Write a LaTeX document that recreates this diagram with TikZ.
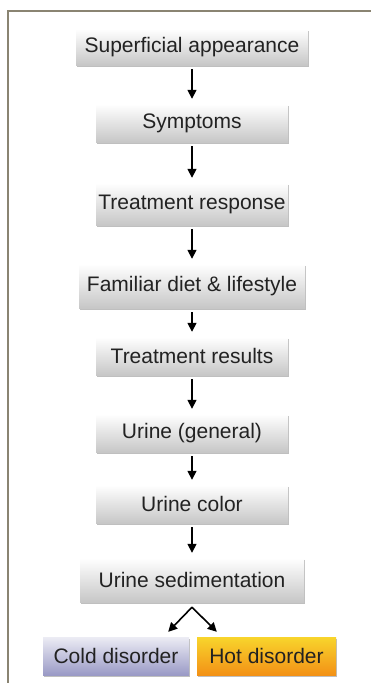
\documentclass[tikz,border=0pt]{standalone}
\usepackage{fontspec}
\setmainfont{Liberation Sans}
\usetikzlibrary{arrows.meta,shadows}
\definecolor{framecol}{HTML}{8A8472}
\definecolor{txtcol}{HTML}{222222}
\definecolor{coldtop}{HTML}{ECECF4}
\definecolor{coldbot}{HTML}{9A9AC6}
\definecolor{hottop}{HTML}{F8D52C}
\definecolor{hotbot}{HTML}{F39116}
\tikzset{
  stepbox/.style={rectangle, inner sep=0pt, text=txtcol,
    font=\fontsize{21}{25}\selectfont,
    top color=white, bottom color=black!22,
    drop shadow={shadow xshift=1pt, shadow yshift=-2pt, opacity=0.25, fill=black},
    minimum width=192pt, minimum height=38pt},
  coldbox/.style={stepbox, top color=coldtop, bottom color=coldbot},
  hotbox/.style={stepbox, top color=hottop, bottom color=hotbot},
  flow/.style={-{Triangle[length=9pt,width=9pt]}, line width=1.6pt, black,
    shorten <=4pt, shorten >=5pt},
  branch/.style={-{Triangle[length=9pt,width=9pt]}, line width=1.6pt, black}
}
\begin{document}
\begin{tikzpicture}[x=1pt,y=-1pt]
\useasboundingbox (0,0) rectangle (371,683);
\fill[white] (0,0) rectangle (371,683);
% frame edges
\draw[framecol, line width=2pt] (371,11) -- (8,11) -- (8,683);

% chain of steps
\node[stepbox, minimum width=232pt, minimum height=36pt] (sup) at (192,47) {Superficial appearance};
\node[stepbox] (sym) at (192,123) {Symptoms};
\node[stepbox, minimum height=42pt] (tre) at (192,204) {Treatment response};
\node[stepbox, minimum width=226pt, minimum height=44pt] (fam) at (192,286) {Familiar diet \& lifestyle};
\node[stepbox] (res) at (192,356) {Treatment results};
\node[stepbox] (ug) at (192,433) {Urine (general)};
\node[stepbox] (uc) at (192,504) {Urine color};
\node[stepbox, minimum width=224pt, minimum height=44pt] (sed) at (192,580) {Urine sedimentation};
\node[coldbox, minimum width=146pt] (cold) at (116,656) {Cold disorder};
\node[hotbox, minimum width=139pt] (hot) at (266.5,656) {Hot disorder};

\draw[flow] (sup) -- (sym);
\draw[flow] (sym) -- (tre);
\draw[flow] (tre) -- (fam);
\draw[flow] (fam) -- (res);
\draw[flow] (res) -- (ug);
\draw[flow] (ug) -- (uc);
\draw[flow] (uc) -- (sed);

% split into the two outcomes
\coordinate (apex) at ([yshift=-5pt]sed.south);
\draw[branch] (apex) -- ([xshift=-21pt,yshift=5pt]cold.north east);
\draw[branch] (apex) -- ([xshift=20pt,yshift=5pt]hot.north west);
\end{tikzpicture}
\end{document}
